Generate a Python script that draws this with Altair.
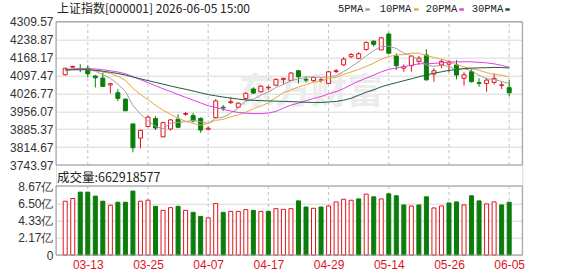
import altair as alt
import pandas as pd

# ---------------- data ----------------
dates = ["03-10","03-11","03-12","03-13","03-16","03-17","03-18","03-19","03-20","03-23",
         "03-24","03-25","03-26","03-27","03-30","03-31","04-01","04-02","04-03","04-07",
         "04-08","04-09","04-10","04-13","04-14","04-15","04-16","04-17","04-20","04-21",
         "04-22","04-23","04-24","04-27","04-28","04-29","04-30","05-06","05-07","05-08",
         "05-11","05-12","05-13","05-14","05-15","05-18","05-19","05-20","05-21","05-22",
         "05-25","05-26","05-27","05-28","05-29","06-01","06-02","06-03","06-04","06-05"]

opens  = [4100,4130,4125,4126,4095,4087,4060,4029,4004,3906,
          3850,3896,3927,3855,3886,3925,3944,3939,3928,3885,
          3931,3972,3990,3972,4007,4044,4033,4049,4059,4082,
          4078,4116,4082,4077,4079,4066,4113,4139,4171,4165,
          4200,4233,4198,4261,4174,4126,4136,4153,4178,4103,
          4139,4142,4139,4086,4112,4069,4066,4070,4058,4049]
highs  = [4128,4136,4142,4138,4100,4109,4067,4043,4006,3907,
          3883,3938,3937,3915,3925,3944,3953,3950,3932,3896,
          4004,3981,4011,3991,4031,4051,4059,4058,4086,4089,
          4111,4119,4094,4092,4088,4116,4123,4170,4185,4189,
          4231,4234,4250,4266,4185,4141,4178,4174,4201,4126,
          4161,4158,4158,4112,4122,4086,4088,4106,4073,4079]
lows   = [4098,4128,4110,4090,4050,4053,4026,3996,3957,3794,
          3810,3893,3882,3853,3880,3889,3938,3912,3871,3880,
          3928,3958,3985,3969,4001,4024,4031,4040,4056,4062,
          4076,4066,4070,4070,4070,4066,4106,4135,4166,4161,
          4195,4211,4198,4185,4119,4112,4112,4139,4077,4073,
          4126,4110,4082,4057,4069,4053,4033,4062,4044,4016]
closes = [4126,4133,4122,4104,4088,4054,4065,4007,3958,3812,
          3881,3933,3890,3911,3922,3893,3947,3918,3882,3889,
          3997,3969,3994,3988,4027,4028,4055,4051,4082,4086,
          4107,4092,4079,4090,4080,4112,4116,4162,4180,4183,
          4228,4220,4246,4185,4136,4132,4174,4166,4080,4116,
          4153,4150,4099,4100,4073,4066,4079,4086,4060,4029]

# volume in 亿 and whether the volume bar is red (1) or green (0)
volumes = [6.76,7.10,7.90,7.90,7.40,6.76,6.25,6.63,6.63,8.03,
           6.76,6.89,6.12,5.61,5.95,6.12,5.61,5.36,4.85,4.67,
           6.46,5.36,5.48,5.48,5.70,5.61,5.48,5.48,5.82,5.74,
           5.82,6.80,6.03,5.87,6.03,6.16,6.67,7.01,6.88,7.05,
           7.65,7.31,7.05,7.69,7.44,6.29,6.16,6.29,7.31,5.91,
           6.16,6.54,6.67,6.29,7.44,6.80,6.42,6.67,6.29,6.63]
vol_up = [1,1,0,0,0,0,1,0,0,0, 1,1,0,1,1,0,1,0,0,1,
          1,0,1,1,1,0,1,0,1,1, 1,0,0,1,0,1,1,1,1,0,
          1,0,1,0,0,0,1,0,0,1, 1,0,0,1,0,0,1,1,0,0]

ma5 = [4117,4122,4124,4121,4114.4,4100,4086.2,4063,4034.2,3979.2,
       3944.6,3918.6,3896.4,3887,3909.2,3912,3915.2,3920.4,3914.6,3907.8,
       3928.4,3933,3948,3969,3996.8,4003.4,4020.2,4031.4,4050.2,4061.8,
       4076.4,4084.2,4090.4,4091.2,4090,4091.8,4096,4112.6,4131.4,4151.8,
       4174.8,4195.6,4211.8,4212.6,4204,4185.2,4175.4,4159,4138.2,4133.6,
       4137.8,4133.4,4120.4,4124.2,4115.8,4098,4084,4081.8,4074,4065.4]
ma10 = [4118,4120,4121,4120,4117,4111,4105,4094,4078,4046.8,
        4022.3,4002.4,3979.7,3960.6,3944.2,3928.3,3916.9,3908.4,3900.8,3908.5,
        3920.2,3924.1,3934.2,3941.8,3952.3,3965.9,3976.6,3989.7,4009.6,4029.3,
        4039.9,4052.2,4060.9,4070.7,4075.9,4084.1,4090.1,4101.5,4111.3,4120.9,
        4133.3,4145.8,4162.2,4172,4177.9,4180,4185.5,4185.4,4175.4,4168.8,
        4161.5,4154.4,4139.7,4131.2,4124.7,4117.9,4108.7,4101.1,4099.1,4090.6]
ma20 = [4121,4123,4124,4124,4123,4120,4116,4111,4104,4093,
        4081,4069,4057,4045,4034,4022,4011,4000,3989,3977.7,
        3971.3,3963.3,3957,3951.2,3948.3,3947.1,3946.8,3949.1,3955.2,3968.9,
        3980,3988.2,3997.6,4006.3,4014.1,4025,4033.4,4045.6,4060.5,4075.1,
        4086.6,4099,4111.6,4121.4,4126.9,4132.1,4137.8,4143.5,4143.4,4144.9,
        4147.4,4150.1,4151,4151.6,4151.3,4149,4147.1,4143.3,4137.3,4129.7]
ma30 = [4119,4120,4120,4120,4118,4114,4110,4105,4099,4091,
        4084,4077,4070,4063,4056,4049,4043,4036,4029,4022,
        4017,4012,4008,4004,4001,3999,3998,3997,3996,3994.9,
        3994.1,3992.9,3991.6,3991,3990.8,3992.8,3994.5,3999.9,4007.2,4019.6,
        4031.1,4040.7,4052.4,4061.5,4068.7,4076.7,4084.1,4092.2,4098.8,4106.3,
        4111.6,4117.5,4120.9,4124.6,4126.2,4127.3,4128.1,4129.3,4128.6,4126.8]

price_ticks = [3743.97,3814.67,3885.37,3956.07,4026.77,4097.47,4168.17,4238.87,4309.57]
vol_ticks = [0, 2.17, 4.33, 6.50, 8.67]
label_days = [4, 12, 20, 28, 36, 44, 52, 60]
ma_names = ["5PMA", "10PMA", "20PMA", "30PMA"]
title_text = "上证指数[000001] 2026-06-05 15:00"
vol_text = "成交量:662918577"

# ---------------- styles ----------------
RED = "#e0141e"
GREEN = "#0b7d0b"
MA_COLORS = ["#a0a0a0", "#e8a838", "#e43ee4", "#1b5e3b"]
W, H = 466.3, 233.3
P_TOP, P_BOT = 0, 143.3
V_TOP, V_BOT = 164.3, 233.3

df = pd.DataFrame({
    "day": list(range(1, len(dates) + 1)), "date": dates,
    "open": opens, "high": highs, "low": lows, "close": closes,
    "vol": volumes, "vup": vol_up,
    "5PMA": ma5, "10PMA": ma10, "20PMA": ma20, "30PMA": ma30,
})

x_scale = alt.Scale(domain=[0.44, 61.08], nice=False, zero=False)
label_expr = "[" + ",".join("'%s'" % d for d in dates) + "][datum.value - 1]"
x_axis = alt.Axis(values=label_days, labelExpr=label_expr, grid=False, ticks=False,
                  domain=False, labelColor=RED, labelFontSize=12, labelPadding=4,
                  labelFont="Liberation Sans", title=None, labelFlush=False)

def X(field):
    return alt.X(field, type="quantitative", scale=x_scale, axis=x_axis)

price_scale = alt.Scale(domain=[price_ticks[0], price_ticks[-1]], range=[P_BOT, P_TOP], nice=False, zero=False)
vol_scale = alt.Scale(domain=[vol_ticks[0], vol_ticks[-1]], range=[V_BOT, V_TOP], nice=False, zero=False)

price_axis = alt.Axis(orient="left", values=price_ticks, format=".2f", grid=True, gridColor="#d8d8d8",
                      ticks=False, domain=False, labelPadding=3, labelFontSize=12, labelColor="#333333",
                      labelFont="Liberation Sans", labelFlush=False, labelOverlap=False, title=None)
vol_axis = alt.Axis(orient="left", values=vol_ticks,
                    labelExpr="datum.value == 0 ? '0' : format(datum.value, '.2f') + '亿'",
                    grid=True, gridColor="#d8d8d8", ticks=False, domain=False, labelPadding=3,
                    labelFontSize=12, labelColor="#333333", labelFont="Liberation Sans",
                    labelFlush=False, labelOverlap=False, title=None)

base = alt.Chart(df)
ticks_df = pd.DataFrame({"day": label_days})
one = pd.DataFrame({"a": [0]})

layers = []

# watermark
layers.append(alt.Chart(one).mark_text(text="东方财富", font="Noto Sans CJK SC", fontSize=36,
                                       fontWeight="bold", color="#ececec", align="left",
                                       baseline="middle").encode(x=alt.value(183), y=alt.value(71)))

# dashed vertical grid lines, one set per panel
layers.append(alt.Chart(ticks_df).mark_rule(color="#c4c4c4", strokeDash=[3, 3], strokeWidth=1).encode(
    x=X("day"),
    y=alt.Y(datum=price_ticks[0], type="quantitative", scale=price_scale, axis=None),
    y2=alt.datum(price_ticks[-1])))
layers.append(alt.Chart(ticks_df).mark_rule(color="#c4c4c4", strokeDash=[3, 3], strokeWidth=1).encode(
    x=X("day"),
    y=alt.Y(datum=vol_ticks[0], type="quantitative", scale=vol_scale, axis=None),
    y2=alt.datum(vol_ticks[-1])))

# candle wicks (carry the price axis)
up_test = "datum.close >= datum.open"
layers.append(base.mark_rule(strokeWidth=1).encode(
    x=X("day"),
    y=alt.Y("low:Q", scale=price_scale, axis=price_axis),
    y2="high:Q",
    color=alt.condition(up_test, alt.value(RED), alt.value(GREEN))))

# candle bodies
layers.append(base.mark_bar(size=4, strokeWidth=1).encode(
    x=X("day"),
    y=alt.Y("open:Q", scale=price_scale, axis=None),
    y2="close:Q",
    fill=alt.condition(up_test, alt.value("white"), alt.value(GREEN)),
    stroke=alt.condition(up_test, alt.value(RED), alt.value(GREEN))))

# moving averages
layers.append(base.transform_fold(ma_names, as_=["ma", "val"]).mark_line(strokeWidth=1).encode(
    x=X("day"),
    y=alt.Y("val:Q", scale=price_scale, axis=None),
    color=alt.Color("ma:N", scale=alt.Scale(domain=ma_names, range=MA_COLORS), legend=None),
    detail="ma:N"))

# volume bars (carry the volume axis)
vtest = "datum.vup == 1"
layers.append(base.mark_bar(size=4, strokeWidth=1).encode(
    x=X("day"),
    y=alt.Y("vol:Q", scale=vol_scale, axis=vol_axis),
    fill=alt.condition(vtest, alt.value("white"), alt.value(GREEN)),
    stroke=alt.condition(vtest, alt.value(RED), alt.value(GREEN))))

# panel borders
layers.append(alt.Chart(one).mark_rect(fillOpacity=0, stroke="#9a9a9a", strokeWidth=1).encode(
    x=alt.value(0), x2=alt.value(W),
    y=alt.Y(datum=price_ticks[0], type="quantitative", scale=price_scale, axis=None),
    y2=alt.datum(price_ticks[-1])))
layers.append(alt.Chart(one).mark_rect(fillOpacity=0, stroke="#9a9a9a", strokeWidth=1).encode(
    x=alt.value(0), x2=alt.value(W),
    y=alt.Y(datum=vol_ticks[0], type="quantitative", scale=vol_scale, axis=None),
    y2=alt.datum(vol_ticks[-1])))

# title and volume caption
layers.append(alt.Chart(one).mark_text(text=title_text, font="Noto Sans CJK SC", fontSize=12,
                                       color="#222222", align="left", baseline="middle").encode(
    x=alt.value(1), y=alt.value(-12.5)))
layers.append(alt.Chart(one).mark_text(text=vol_text, font="Noto Sans CJK SC", fontSize=12.5,
                                       color="#222222", align="left", baseline="middle").encode(
    x=alt.value(1), y=alt.value(156)))

# legend: label followed by a short colour dash
legend_text_x = [282, 323.7, 369.7, 415.7]
legend_dash_x = [309.3, 358, 403.3, 449.3]
for name, col, tx, dx in zip(ma_names, MA_COLORS, legend_text_x, legend_dash_x):
    layers.append(alt.Chart(one).mark_text(text=name, font="Liberation Mono", fontSize=10.5,
                                           color="#222222", align="left", baseline="middle").encode(
        x=alt.value(tx), y=alt.value(-12.8)))
    layers.append(alt.Chart(one).mark_rule(color=col, strokeWidth=2.5).encode(
        x=alt.value(dx), x2=alt.value(dx + 4.5), y=alt.value(-12.2)))

chart = alt.layer(*layers).resolve_scale(y="independent").properties(
    width=W, height=H,
    autosize=alt.AutoSizeParams(type="none"),
    padding={"left": 56, "top": 21.7, "right": 578 - 56 - W, "bottom": 276 - 21.7 - H},
).configure_view(stroke=None).configure(background="white")

chart.save("out.html", embed_options={"renderer": "svg", "actions": False})
